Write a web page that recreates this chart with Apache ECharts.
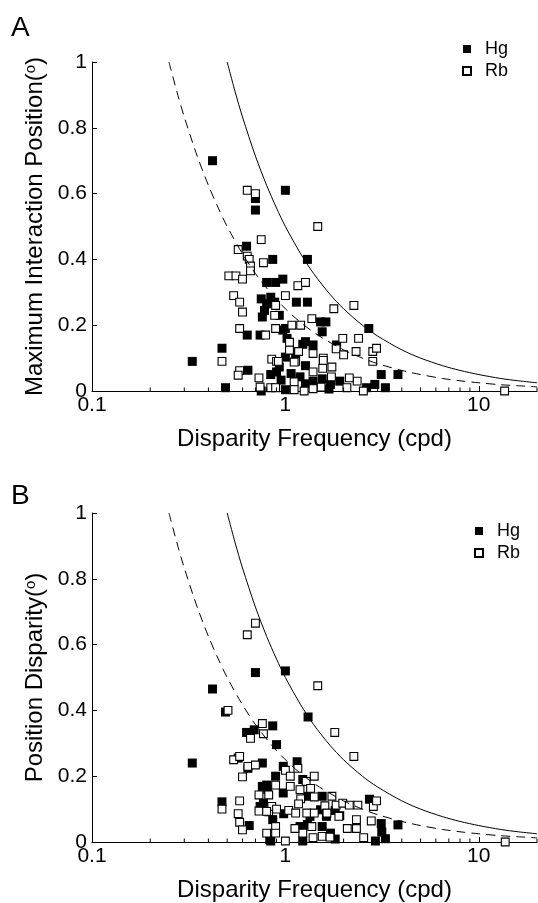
<!DOCTYPE html>
<html><head><meta charset="utf-8">
<script src="https://cdn.jsdelivr.net/npm/echarts@6/dist/echarts.min.js"></script>
<style>html,body{margin:0;padding:0;background:#fff}#c{width:538px;height:903px}</style>
</head><body><div id="c"></div>
<script>
const FONT = '"Liberation Sans", Arial, Helvetica, sans-serif';

// axis ticks
const xTickLabels = [0.1, 1, 10];
const xMinorTicks = [0.2, 0.3, 0.4, 0.5, 0.6, 0.7, 0.8, 0.9, 2, 3, 4, 5, 6, 7, 8, 9, 20];
const yTicks = [0, 0.2, 0.4, 0.6, 0.8, 1];

// reference curves
const solidX = [0.5, 0.55, 0.6, 0.7, 0.8, 0.9, 1, 1.2, 1.4, 1.7, 2, 2.5, 3, 4, 5, 6.5, 8, 10, 13, 16, 20];
const solidY = [1.0, 0.909, 0.833, 0.714, 0.625, 0.556, 0.5, 0.417, 0.357, 0.294, 0.25, 0.2, 0.167, 0.125, 0.1, 0.077, 0.0625, 0.05, 0.038, 0.031, 0.025];
const dashX = [0.25, 0.275, 0.3, 0.35, 0.4, 0.45, 0.5, 0.6, 0.7, 0.85, 1, 1.2, 1.5, 2, 2.5, 3, 4, 5, 6.5, 8, 10, 13, 16, 20];
const dashY = [1.0, 0.909, 0.833, 0.714, 0.625, 0.556, 0.5, 0.417, 0.357, 0.294, 0.25, 0.208, 0.167, 0.125, 0.1, 0.083, 0.0625, 0.05, 0.038, 0.031, 0.025, 0.019, 0.016, 0.0125];

// Panel A: Maximum Interaction Position
const hgA = [
  [0.42,0.70],[0.70,0.585],[0.70,0.55],[0.63,0.44],[0.86,0.40],[0.80,0.33],[0.89,0.33],[0.97,0.34],
  [0.75,0.28],[0.84,0.285],[0.80,0.265],[0.88,0.27],[0.78,0.245],[0.76,0.225],[0.93,0.23],[0.635,0.17],
  [0.74,0.17],[0.33,0.09],[0.47,0.13],[0.64,0.063],[0.49,0.01],[0.75,0.0],[0.84,0.05],[1.0,0.61],
  [1.30,0.40],[1.14,0.27],[1.30,0.27],[2.70,0.19],[1.0,0.19],[0.97,0.185],[1.52,0.21],[1.62,0.21],
  [1.55,0.18],[1.02,0.16],[1.27,0.15],[1.39,0.14],[1.84,0.14],[1.23,0.142],[0.93,0.073],[3.13,0.05],
  [3.82,0.05],[3.29,0.01],[2.9,0.02],[2.63,0.01],[1.91,0.03],[1.71,0.02],[1.68,0.006],[1.39,0.03],
  [1.27,0.022],[1.19,0.043],[1.07,0.053],[1.0,0.004],[0.90,0.058],[0.95,0.033],[1.27,0.077],[1.55,0.037],
  [1.0,0.103],[1.13,0.114]
];
const rbA = [
  [0.635,0.61],[0.70,0.60],[0.75,0.46],[0.57,0.43],[0.635,0.41],[0.65,0.40],[0.66,0.38],[0.66,0.365],
  [0.77,0.39],[0.51,0.35],[0.555,0.35],[0.60,0.34],[0.54,0.29],[0.58,0.27],[0.60,0.24],[0.89,0.26],
  [0.88,0.23],[0.58,0.19],[0.79,0.17],[0.89,0.19],[0.47,0.09],[0.58,0.062],[0.57,0.048],[0.73,0.04],
  [0.74,0.012],[0.85,0.097],[0.90,0.09],[0.84,0.01],[0.89,0.01],[1.47,0.50],[1.16,0.32],[1.27,0.33],
  [1.0,0.29],[1.78,0.25],[2.26,0.26],[1.08,0.20],[1.2,0.20],[1.37,0.22],[1.05,0.148],[1.98,0.16],
  [2.39,0.16],[1.83,0.128],[2.0,0.11],[2.32,0.12],[2.83,0.12],[2.96,0.13],[2.83,0.09],[1.05,0.124],
  [1.17,0.12],[1.39,0.114],[1.57,0.10],[0.92,0.09],[1.13,0.09],[1.74,0.073],[2.53,0.0],[2.35,0.03],
  [2.14,0.04],[2.08,0.01],[1.53,0.012],[1.73,0.043],[1.56,0.069],[1.39,0.058],[1.39,0.007],[1.25,0.0],
  [1.11,0.028],[1.11,0.004],[1.11,0.088],[1.57,0.093],[13.6,0.0]
];

// Panel B: Position Disparity
const hgB = [
  [0.70,0.515],[0.42,0.465],[0.49,0.395],[0.86,0.353],[0.63,0.333],[0.69,0.341],[0.90,0.296],[0.33,0.24],
  [0.57,0.255],[0.64,0.224],[0.76,0.24],[0.76,0.169],[0.80,0.173],[0.77,0.118],[0.47,0.122],[0.65,0.05],
  [0.84,0.003],[0.86,0.068],[1.0,0.52],[1.31,0.38],[1.15,0.244],[0.975,0.23],[0.89,0.20],[1.23,0.19],
  [0.81,0.16],[0.975,0.149],[1.30,0.139],[1.55,0.139],[2.72,0.13],[0.98,0.086],[1.52,0.098],[1.81,0.096],
  [1.63,0.078],[1.34,0.078],[0.74,0.108],[3.13,0.056],[3.82,0.052],[3.15,0.03],[3.29,0.01],[2.92,0.003],
  [1.91,0.08],[1.71,0.027],[1.81,0.009],[1.23,0.003],[1.19,0.047],[0.83,0.007],[1.30,0.053],[1.55,0.047]
];
const rbB = [
  [0.635,0.63],[0.70,0.665],[0.505,0.40],[0.76,0.36],[0.66,0.315],[0.77,0.329],[0.54,0.25],[0.58,0.26],
  [0.64,0.23],[0.70,0.234],[0.60,0.198],[0.73,0.143],[0.82,0.143],[0.73,0.094],[0.82,0.092],[0.47,0.10],
  [0.58,0.125],[0.57,0.086],[0.58,0.06],[0.60,0.037],[0.80,0.027],[0.89,0.047],[1.47,0.475],[1.80,0.333],
  [2.26,0.26],[1.0,0.218],[1.16,0.224],[1.41,0.20],[1.06,0.20],[1.28,0.184],[0.89,0.173],[1.06,0.169],
  [1.19,0.159],[1.35,0.163],[1.20,0.131],[1.41,0.137],[1.74,0.139],[1.60,0.11],[1.83,0.112],[1.98,0.118],
  [2.14,0.112],[2.37,0.112],[2.85,0.108],[2.96,0.125],[0.85,0.108],[0.90,0.10],[1.04,0.096],[1.17,0.116],
  [1.13,0.088],[1.29,0.088],[1.41,0.088],[1.64,0.088],[0.80,0.093],[2.78,0.064],[2.54,0.013],[2.33,0.041],
  [2.09,0.041],[2.33,0.068],[1.89,0.078],[1.55,0.017],[1.70,0.015],[1.39,0.013],[1.23,0.027],[1.12,0.041],
  [1.0,0.003],[0.89,0.027],[1.37,0.047],[13.7,0.0]
];

const panelLetters = ['A', 'B'];
const yNames = ['Maximum Interaction Position(', 'Position Disparity('];
const xName = 'Disparity Frequency (cpd)';

const chart = echarts.init(document.getElementById('c'), null, {renderer: 'canvas'});

const grids = [
  {left: 92, right: 1, top: 62, height: 329},
  {left: 92, right: 1, top: 513, height: 329}
];

function fmtX(v) {
  for (const t of xTickLabels) if (Math.abs(Math.log10(v) - Math.log10(t)) < 1e-6) return String(t);
  return '';
}

const xAxes = grids.map((g, i) => ({
  type: 'log', logBase: 10, gridIndex: i, min: 0.1, max: 20,
  name: xName, nameLocation: 'middle', nameGap: 36,
  nameTextStyle: {fontFamily: FONT, fontSize: 24, color: '#000'},
  axisLine: {show: true, onZero: false, lineStyle: {color: '#000', width: 1}},
  axisTick: {show: true, inside: true, length: 5, lineStyle: {color: '#000', width: 1}},
  axisLabel: {fontFamily: FONT, fontSize: 21, color: '#000', margin: 4, formatter: fmtX, showMaxLabel: false},
  splitLine: {show: false}
}));

const yAxes = grids.map((g, i) => ({
  type: 'value', gridIndex: i, min: 0, max: 1, interval: 0.2,
  name: '{t|' + yNames[i] + '}{s|o}{t|)}', nameLocation: 'middle', nameGap: 45,
  nameTextStyle: {color: '#000', rich: {
    t: {fontFamily: FONT, fontSize: 24, color: '#000'},
    s: {fontFamily: FONT, fontSize: 15, color: '#000', verticalAlign: 'top', lineHeight: 12}
  }},
  axisLine: {show: true, lineStyle: {color: '#000', width: 1}},
  axisTick: {show: true, inside: true, length: 5, lineStyle: {color: '#000', width: 1}},
  axisLabel: {fontFamily: FONT, fontSize: 21, color: '#000', margin: 5},
  splitLine: {show: false}
}));

const pairs = (xs, ys) => xs.map((x, k) => [x, ys[k]]);

const series = [];
[[hgA, rbA], [hgB, rbB]].forEach(([hg, rb], i) => {
  series.push({
    name: 'Hg', type: 'scatter', xAxisIndex: i, yAxisIndex: i, data: hg,
    symbol: 'rect', symbolSize: 9, itemStyle: {color: '#000', opacity: 1}, z: 2, silent: true
  });
  series.push({
    name: 'Rb', type: 'scatter', xAxisIndex: i, yAxisIndex: i, data: rb,
    symbol: 'rect', symbolSize: 7.8, itemStyle: {color: '#fff', borderColor: '#000', borderWidth: 1.1, opacity: 1}, z: 3, silent: true
  });
  series.push({
    name: 'solid', type: 'line', xAxisIndex: i, yAxisIndex: i, data: pairs(solidX, solidY),
    showSymbol: false, symbol: 'none', smooth: 0.3, lineStyle: {color: '#000', width: 1}, z: 4, silent: true
  });
  series.push({
    name: 'dashed', type: 'line', xAxisIndex: i, yAxisIndex: i, data: pairs(dashX, dashY),
    showSymbol: false, symbol: 'none', smooth: 0.3, lineStyle: {color: '#000', width: 1, type: [9, 6]}, z: 4, silent: true
  });
  series.push({
    name: 'minor', type: 'custom', xAxisIndex: i, yAxisIndex: i, silent: true, z: 5,
    data: xMinorTicks.map(v => [v, 0]),
    renderItem: (params, api) => {
      const p = api.coord([api.value(0), api.value(1)]);
      return {type: 'line', shape: {x1: p[0], y1: p[1], x2: p[0], y2: p[1] - 3.5},
              style: {stroke: '#000', lineWidth: 1}};
    }
  });
});

const legendBase = {
  data: ['Hg', 'Rb'], orient: 'vertical', icon: 'rect', itemWidth: 8, itemHeight: 8, itemGap: 0,
  selectedMode: false, padding: 0,
  textStyle: {fontFamily: FONT, fontSize: 18, color: '#000', lineHeight: 22, padding: [0, 0, 0, 9]}
};

chart.setOption({
  animation: false,
  backgroundColor: '#fff',
  grid: grids,
  xAxis: xAxes,
  yAxis: yAxes,
  legend: [
    Object.assign({}, legendBase, {left: 462, top: 38}),
    Object.assign({}, legendBase, {left: 474, top: 520})
  ],
  graphic: [
    {type: 'text', left: 11, top: 14, style: {text: panelLetters[0], font: '28px ' + FONT, fill: '#000'}},
    {type: 'text', left: 11, top: 482, style: {text: panelLetters[1], font: '28px ' + FONT, fill: '#000'}}
  ],
  series: series
});
</script></body></html>
